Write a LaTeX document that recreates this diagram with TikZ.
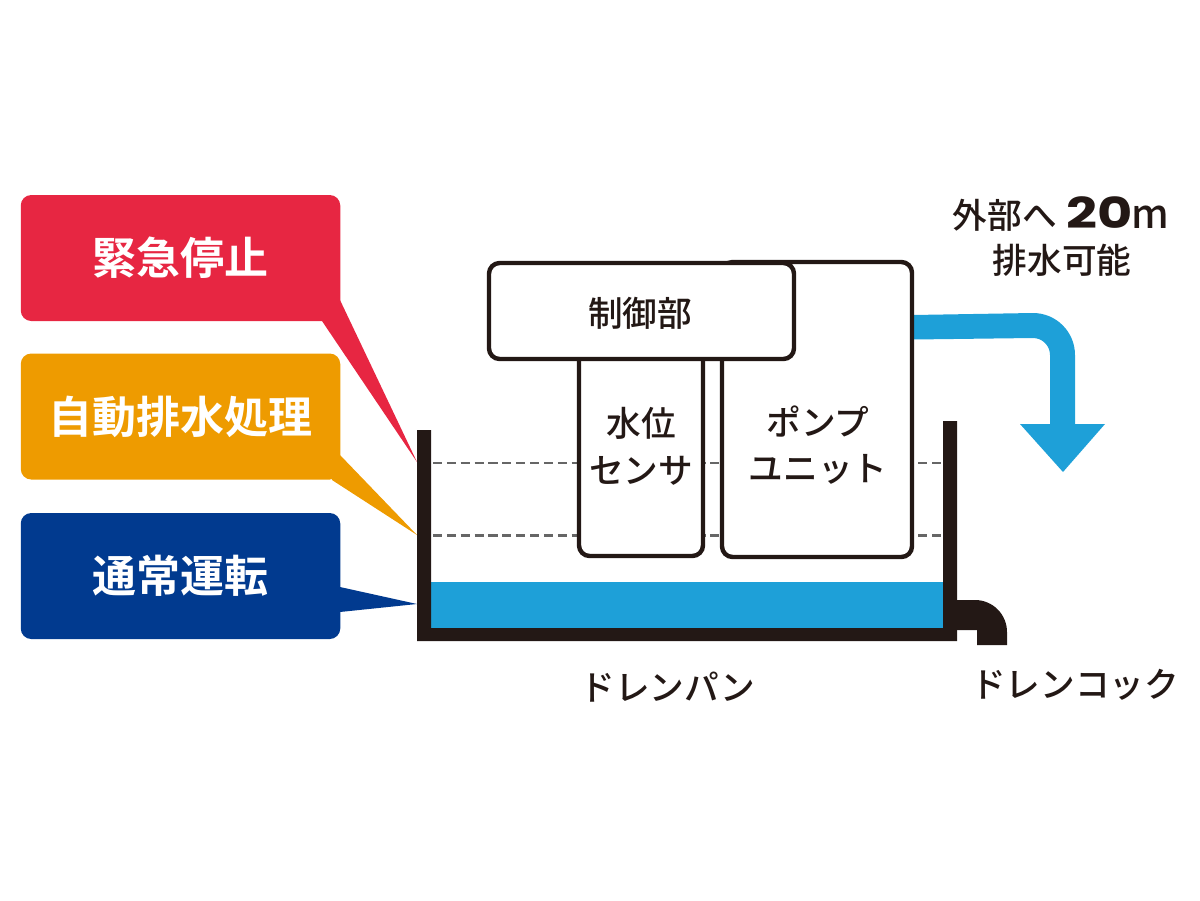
\documentclass[tikz,border=0pt]{standalone}
\usepackage{fontspec}
\setmainfont{Liberation Sans}
\newfontfamily\jpn{Noto Sans CJK JP Medium}
\newfontfamily\jpb{Noto Sans CJK JP Bold}
\newfontfamily\wideb{Poppins}[BoldFont=Poppins Bold]
\definecolor{ink}{HTML}{231815}
\definecolor{water}{HTML}{1EA0D8}
\definecolor{redc}{HTML}{E72642}
\definecolor{orangec}{HTML}{EE9B00}
\definecolor{bluec}{HTML}{013A8F}
\definecolor{dashc}{HTML}{666666}
\tikzset{
  callout/.style={rounded corners=10.5pt*0.75,minimum width=319.5*0.75pt,minimum height=126*0.75pt,inner sep=0pt,text=white,font=\jpb\fontsize{33}{36}\selectfont},
  unitbox/.style={draw=ink,fill=white,line width=3.3pt,rounded corners=8pt,inner sep=0pt},
  level/.style={draw=dashc,line width=1.9pt,dash pattern=on 6.8pt off 3.6pt},
  lab/.style={text=ink,inner sep=0pt,align=center,font=\jpn\fontsize{26}{36}\selectfont}
}
\begin{document}
\begin{tikzpicture}[x=0.75pt,y=-0.75pt]
\useasboundingbox (0,0) rectangle (1200,900);
% callouts
\fill[redc] (340,300) -- (417,462) -- (322,321) -- cycle;
\node[callout,fill=redc] (stop) at (180.5,258) {\raisebox{0.75pt}{緊急停止}};
\fill[orangec] (340,455) -- (417,535) -- (332,480) -- cycle;
\node[callout,fill=orangec] (auto) at (180.5,416.5) {\raisebox{0.4pt}{自動排水処理}};
\fill[bluec] (340,587) -- (417,604) -- (340,612) -- cycle;
\node[callout,fill=bluec] (normal) at (180.5,576) {\raisebox{0.75pt}{通常運転}};
% water levels
\coordinate (l1a) at (433,463); \coordinate (l1b) at (943,463);
\coordinate (l2a) at (433,535.5); \coordinate (l2b) at (943,535.5);
\draw[level] (l1a) -- (l1b);
\draw[level] (l2a) -- (l2b);
% water
\fill[water] (431,582) rectangle (943,628);
% pan
\fill[ink] (417,430) -- (431,430) -- (431,628) -- (943,628) -- (943,421) -- (957,421) -- (957,641) -- (417,641) -- cycle;
% drain cock
\fill[ink] (957,600) -- (975,600) arc[start angle=-90,end angle=0,radius=32] -- (1007,645) -- (977,645) -- (977,630) -- (957,630) -- cycle;
% pipe arrow
\fill[water] (913,315) -- (1033,313) arc[start angle=-90,end angle=0,radius=42] -- (1075,424) -- (1105,424) -- (1063,472) -- (1020,424) -- (1050,424) -- (1050,355) arc[start angle=0,end angle=-90,radius=17] -- (913,339.5) -- cycle;
% units
\node[unitbox,minimum width=124*0.75pt,minimum height=212*0.75pt] (sensor) at (641,450) {};
\node[unitbox,minimum width=190*0.75pt,minimum height=295*0.75pt] (pump) at (817,409.5) {};
\node[unitbox,minimum width=305*0.75pt,minimum height=96*0.75pt] (ctrl) at (641.5,311) {};
\node[lab] (ctrltxt) at (640,313) {制御部};
\node[lab] (sensortxt) at (641,446) {水位\\[-1pt]センサ};
\node[lab] (pumptxt) at (818,445) {ポンプ\\[-1pt]ユニット};
\node[lab] (pantxt) at (668,687) {ドレンパン};
\node[lab] (cocktxt) at (1075,685) {ドレンコック};
\node[lab,anchor=east] (ext) at (1169,214) {外部へ\kern7pt{\wideb\bfseries\fontsize{32}{36}\selectfont\scalebox{1.27}[1]{20}}{\jpn\fontsize{30}{36}\selectfont\kern-1pt m}};
\node[lab] (ext2) at (1062,260) {排水可能};
\end{tikzpicture}
\end{document}
